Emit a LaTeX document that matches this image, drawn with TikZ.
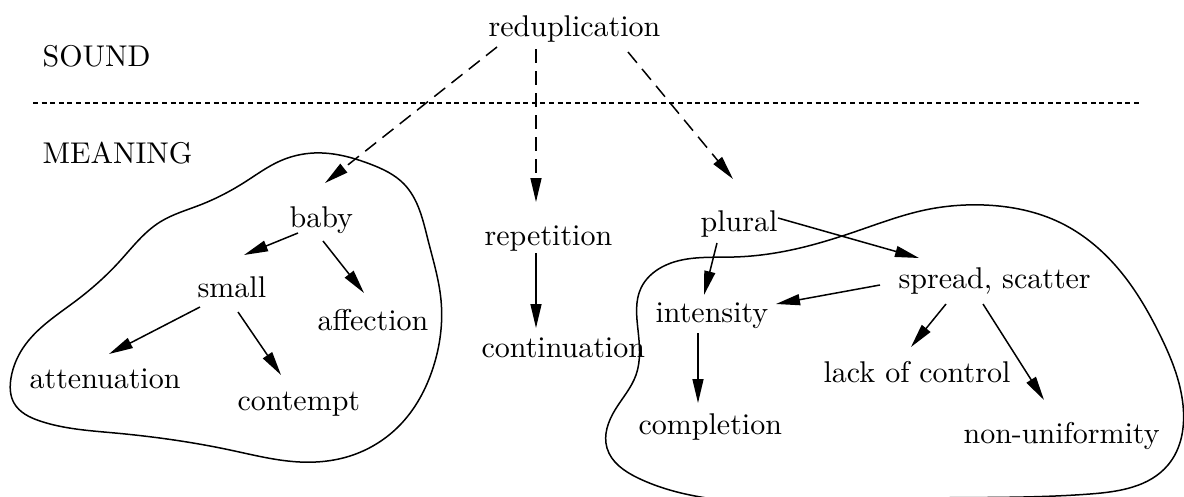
\documentclass[tikz,border=0pt]{standalone}
\usetikzlibrary{arrows.meta,hobby}
\begin{document}
\begin{tikzpicture}[x=1pt,y=-1pt,
  lbl/.style={scale=3,inner sep=0pt,anchor=base west},
  arr/.style={line width=1.5pt,-{Triangle[length=24pt,width=11pt]}},
  darr/.style={arr,dash pattern=on 14pt off 8pt},
  blob/.style={line width=1.5pt},
  sep/.style={line width=2.5pt,dash pattern=on 5pt off 3.6pt}]
\useasboundingbox (0,0) rectangle (1184,496);
\clip (0,0) rectangle (1184,496);
% labels
\node[lbl] (red) at (488,36) {reduplication};
\node[lbl] (sound) at (42,66) {SOUND};
\node[lbl] (meaning) at (42,163) {MEANING};
\node[lbl] (baby) at (289,227) {baby};
\node[lbl] (small) at (197,297) {small};
\node[lbl] (affection) at (317,330) {affection};
\node[lbl] (attenuation) at (29,388) {attenuation};
\node[lbl] (contempt) at (237,410) {contempt};
\node[lbl] (repetition) at (484,245) {repetition};
\node[lbl] (continuation) at (481,357) {continuation};
\node[lbl] (plural) at (700,231) {plural};
\node[lbl] (spread) at (898,288) {spread, scatter};
\node[lbl] (intensity) at (655,322) {intensity};
\node[lbl] (lack) at (823,382) {lack of control};
\node[lbl] (completion) at (638,434) {completion};
\node[lbl] (nonunif) at (963,443) {non-uniformity};
% separator
\coordinate (sepL) at (33,103);
\coordinate (sepR) at (1140,103);
\draw[sep] (sepL) -- (sepR);
% blobs
\draw[blob] plot[closed hobby] coordinates {
 (314,153) (370,164) (404,184) (428,240) (441,300) (433,368)
 (400,425) (350,456) (300,462) (230,450) (115,433) (40,421) (14,403)
 (11,378) (23,348) (77,300) (119,262) (160,222) (200,205) (245,182) (280,161)};
\draw[blob] plot[closed hobby] coordinates {
 (984,205) (1061,223) (1115,265) (1160,335) (1183,405) (1168,465)
 (1090,494) (880,499) (690,495) (638,478) (607,448) (615,410) (636,375)
 (638,330) (641,288) (662,267) (734,257) (800,248) (860,230) (925,210)};
% dashed arrows
\draw[darr] ([shift={(9,11)}]red.base west) -- ([shift={(36,-44)}]baby.base west);
\draw[darr] ([shift={(48,13)}]red.base west) -- ([shift={(52,-43)}]repetition.base west);
\draw[darr] ([shift={(140,16)}]red.base west) -- ([shift={(33,-52)}]plural.base west);
% solid arrows
\draw[arr] ([shift={(9,6)}]baby.base west) -- ([shift={(47,-42)}]small.base west);
\draw[arr] ([shift={(34,14)}]baby.base west) -- ([shift={(47,-37)}]affection.base west);
\draw[arr] ([shift={(3,10)}]small.base west) -- ([shift={(80,-34)}]attenuation.base west);
\draw[arr] ([shift={(41,15)}]small.base west) -- ([shift={(44,-35)}]contempt.base west);
\draw[arr] ([shift={(52,8)}]repetition.base west) -- ([shift={(55,-29)}]continuation.base west);
\draw[arr] ([shift={(17,12)}]plural.base west) -- ([shift={(49,-27)}]intensity.base west);
\draw[arr] ([shift={(78,-13)}]plural.base west) -- ([shift={(21,-30)}]spread.base west);
\draw[arr] ([shift={(-18,-3)}]spread.base west) -- ([shift={(121,-18)}]intensity.base west);
\draw[arr] ([shift={(48,16)}]spread.base west) -- ([shift={(88,-35)}]lack.base west);
\draw[arr] ([shift={(85,16)}]spread.base west) -- ([shift={(81,-43)}]nonunif.base west);
\draw[arr] ([shift={(43,11)}]intensity.base west) -- ([shift={(60,-31)}]completion.base west);
\end{tikzpicture}
\end{document}
